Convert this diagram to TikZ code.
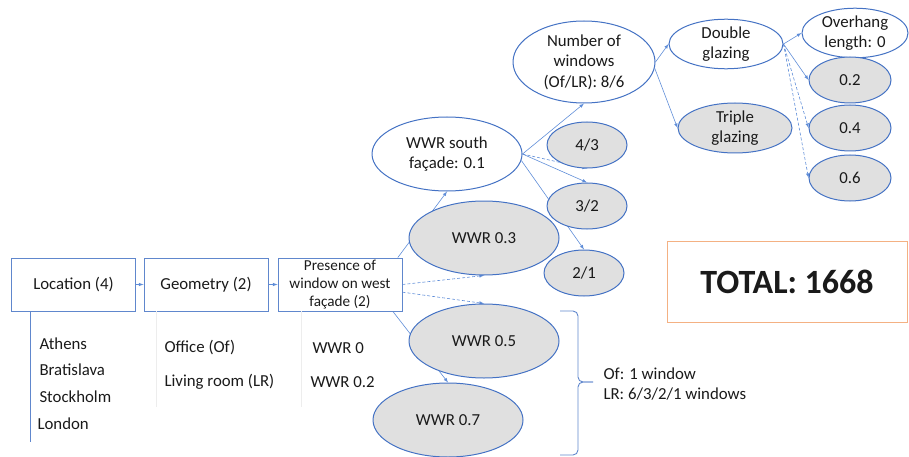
\documentclass[tikz,border=0pt]{standalone}
\usepackage{fontspec}
\setmainfont{Carlito}
\usepackage{tikz}
\usetikzlibrary{arrows, positioning, backgrounds, calc, shapes}
\definecolor{edgeblue}{HTML}{4472C4}
\definecolor{linkblue}{HTML}{5F8DD8}
\definecolor{nodegray}{HTML}{E0E0E0}
\definecolor{totalorange}{HTML}{F4B183}
\definecolor{inktext}{HTML}{1A1A1A}
\tikzstyle{stagebox} = [draw=edgeblue!85, line width=0.9pt, minimum width=124pt, minimum height=53pt, inner sep=0pt, align=center]
\tikzstyle{optwhite} = [ellipse, draw=edgeblue, line width=1pt, fill=white, inner sep=0pt, align=center]
\tikzstyle{optgray} = [optwhite, fill=nodegray]
\tikzstyle{bigopt} = [minimum width=150pt, minimum height=74pt]
\tikzstyle{smallopt} = [minimum width=80pt, minimum height=46pt]
\tikzstyle{link} = [->, >=latex, linkblue, line width=0.6pt]
\tikzstyle{dlink} = [link, densely dashed]

\begin{document}
\begin{tikzpicture}[x=1pt, y=-1pt, font=\fontsize{16.8}{20.5}\selectfont, text=inktext]
\useasboundingbox (0,0) rectangle (909,457);

% Stages
\node [stagebox] (loc) at (73.5,284.5) {Location (4)};
\node [stagebox] (geo) at (206,284.5) {Geometry (2)};
\node [stagebox, font=\fontsize{15.2}{18}\selectfont] (pres) at (340,284.5) {Presence of\\window on west\\façade (2)};

% Stage values
\draw [edgeblue!85, line width=0.9pt] ($(loc.south west)+(19,0)$) -- ++(0,131);
\draw [black!7] ($(geo.south west)+(13,0)$) -- ++(0,96);
\draw [black!7] ($(pres.south west)+(24,0)$) -- ++(0,96);
\node [anchor=west] (athens) at (36,344) {Athens};
\node [anchor=west] (bratislava) at (36,370) {Bratislava};
\node [anchor=west] (stockholm) at (36,397) {Stockholm};
\node [anchor=west] (london) at (34,424) {London};
\node [anchor=west] (office) at (161,348) {Office (Of)};
\node [anchor=west] (living) at (161,382) {Living room (LR)};
\node [anchor=west] (wwr0) at (309,348) {WWR 0};
\node [anchor=west] (wwr2) at (307,382) {WWR 0.2};

% West facade options
\node [optwhite, bigopt] (south) at (447,154) {WWR south\\façade: 0.1};
\node [optgray, bigopt] (w3) at (484,238) {WWR 0.3};
\node [optgray, bigopt] (w5) at (484,341) {WWR 0.5};
\node [optgray, bigopt] (w7) at (448,420) {WWR 0.7};

% Number of windows
\node [optwhite, minimum width=142pt, minimum height=82pt] (nwin) at (584,62) {Number of\\windows\\(Of/LR): 8/6};
\node [optgray, smallopt] (n43) at (587,145) {4/3};
\node [optgray, smallopt] (n32) at (587,206) {3/2};
\node [optgray, smallopt] (n21) at (584,273) {2/1};

% Glazing
\node [optwhite, minimum width=114pt, minimum height=48pt] (dgl) at (726,44) {Double\\glazing};
\node [optgray, minimum width=114pt, minimum height=50pt] (tgl) at (735,128) {Triple\\glazing};

% Overhang
\node [optwhite, minimum width=106pt, minimum height=46pt] (oh0) at (855,33) {Overhang\\length: 0};
\node [optgray, minimum width=82pt, minimum height=46pt] (oh2) at (850,80) {0.2};
\node [optgray, minimum width=82pt, minimum height=46pt] (oh4) at (850,128) {0.4};
\node [optgray, minimum width=82pt, minimum height=46pt] (oh6) at (850,178) {0.6};

% Total
\node [draw=totalorange, line width=1pt, minimum width=240pt, minimum height=81pt, font=\bfseries\fontsize{34}{38}\selectfont] (total) at (787,281.5) {TOTAL: 1668};

% Bracket
\draw [edgeblue!85, line width=0.9pt, rounded corners=5pt] (560,311) -- (578,311) -- (578,382) -- (593,382);
\draw [edgeblue!85, line width=0.9pt, rounded corners=5pt] (560,455) -- (578,455) -- (578,382) -- (593,382);
\node [anchor=west] (ofnote) at (600,374) {Of: 1 window};
\node [anchor=west] (lrnote) at (600,394) {LR: 6/3/2/1 windows};

% Connectors
\begin{scope}[on background layer]
\draw [link] (loc) -- (geo);
\draw [link] (geo) -- (pres);
\draw [link] (pres.25) -- (south.south);
\draw [dlink] (pres.east) -- (w3.south);
\draw [dlink] (pres.-7) -- (w5.north);
\draw [link] (pres.-27) -- (w7.north);
\draw [link] (south.east) -- (nwin.south);
\draw [dlink] (south.east) -- (n43.south);
\draw [link] (south.east) -- (n32.north);
\draw [link] (south.-5) -- (n21.north);
\draw [link] (nwin.east) -- (dgl.west);
\draw [link] (nwin.-5) -- (tgl.west);
\draw [link] (dgl.east) -- (oh0.west);
\draw [link] (dgl.east) -- (oh2.west);
\draw [dlink] (dgl.east) -- (oh4.west);
\draw [dlink] (dgl.east) -- (oh6.west);
\end{scope}

\end{tikzpicture}
\end{document}
